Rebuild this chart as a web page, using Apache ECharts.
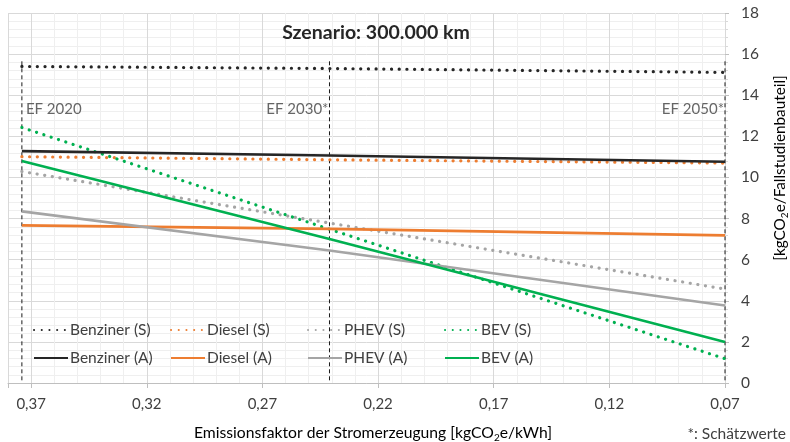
<!DOCTYPE html>
<html>
<head>
<meta charset="utf-8">
<script src="https://cdn.jsdelivr.net/npm/echarts@6/dist/echarts.min.js"></script>
<style>
  html, body { margin: 0; padding: 0; background: #fff; }
  #chart { width: 790px; height: 442px; }
</style>
</head>
<body>
<div id="chart"></div>
<script>
// Emission factors of the electricity mix for the three reference years
const efNames = ['EF 2020', 'EF 2030*', 'EF 2050*'];
const efValues = [0.374, 0.241, 0.07];

// Tick labels of the emission-factor axis (German decimal comma)
const xTickLabels = ['0,37', '0,32', '0,27', '0,22', '0,17', '0,12', '0,07'];

// Results per vehicle type [kgCO2e/Fallstudienbauteil] at EF 2020, EF 2030, EF 2050
const benzinerS = [15.40, 15.30, 15.11];
const dieselS   = [11.01, 10.86, 10.70];
const phevS     = [10.29, 7.78, 4.57];
const bevS      = [12.43, 7.48, 1.18];
const benzinerA = [11.28, 11.07, 10.76];
const dieselA   = [7.67, 7.50, 7.18];
const phevA     = [8.35, 6.45, 3.77];
const bevA      = [10.80, 7.00, 1.99];

const FONT = 'Lato';
const TXT = '#404040';

function pairs(vals) { return efValues.map((x, i) => [x, vals[i]]); }

const dotted = [0.1, 7.6];
const lineDefs = [
  { name: 'Benziner (S)', data: benzinerS, color: '#262626', dot: true },
  { name: 'Diesel (S)',   data: dieselS,   color: '#ED7D31', dot: true },
  { name: 'PHEV (S)',     data: phevS,     color: '#A5A5A5', dot: true },
  { name: 'BEV (S)',      data: bevS,      color: '#00B050', dot: true },
  { name: 'Benziner (A)', data: benzinerA, color: '#262626', dot: false },
  { name: 'Diesel (A)',   data: dieselA,   color: '#ED7D31', dot: false },
  { name: 'PHEV (A)',     data: phevA,     color: '#A5A5A5', dot: false },
  { name: 'BEV (A)',      data: bevA,      color: '#00B050', dot: false }
];

const series = [];

// Vertical dashed markers for the reference years
efValues.forEach((ef, i) => {
  series.push({
    type: 'line',
    name: 'marker' + i,
    data: [[ef, 15.65], [ef, 0]],
    symbol: 'none',
    silent: true,
    lineStyle: { color: '#1a1a1a', width: 1, type: [4, 3] },
    z: 1
  });
});

// Labels of the reference years
series.push({
  type: 'scatter',
  name: 'efLabels',
  symbolSize: 0,
  silent: true,
  data: efValues.map((ef, i) => ({
    value: [ef, 13.3],
    label: {
      show: true,
      formatter: efNames[i],
      position: i === 0 ? 'right' : 'left',
      distance: i === 0 ? 4 : 1,
      fontFamily: FONT,
      fontSize: 15,
      color: TXT
    }
  }))
});

lineDefs.forEach(d => {
  series.push({
    type: 'line',
    name: d.name,
    data: pairs(d.data),
    symbol: 'none',
    color: d.color,
    lineStyle: d.dot
      ? { color: d.color, width: 3.2, type: dotted, cap: 'round' }
      : { color: d.color, width: 2.6 },
    z: d.dot ? 3 : 4
  });
});

// Legend laid out as a 4 x 2 grid with fixed column spacing
const legends = lineDefs.map((d, i) => ({
  left: 28 + 137 * (i % 4),
  top: i < 4 ? 317 : 345,
  itemWidth: 34,
  itemHeight: 14,
  itemStyle: { opacity: 0 },
  textStyle: { fontFamily: FONT, fontSize: 15.5, color: TXT, padding: [0, 0, 0, -3] },
  selectedMode: false,
  data: [d.name]
}));

const chart = echarts.init(document.getElementById('chart'), null, { renderer: 'canvas' });
chart.setOption({
  animation: false,
  backgroundColor: '#ffffff',
  textStyle: { fontFamily: FONT },
  title: {
    text: 'Szenario: 300.000 km',
    left: 371,
    textAlign: 'center',
    top: 18,
    textStyle: { fontFamily: FONT, fontSize: 19.5, fontWeight: 'bold', color: '#262626' }
  },
  grid: { left: 8, right: 65, top: 13, bottom: 59 },
  legend: legends,
  xAxis: {
    type: 'value',
    inverse: true,
    min: 0.07,
    max: 0.38,
    interval: 0.05,
    axisLine: { show: true, lineStyle: { color: '#bfbfbf', width: 1 } },
    axisTick: { show: true, length: 5, lineStyle: { color: '#bfbfbf' } },
    minorTick: { show: false, splitNumber: 5 },
    splitLine: { show: true, lineStyle: { color: '#d9d9d9', width: 1 } },
    minorSplitLine: { show: true, lineStyle: { color: '#efefef', width: 1 } },
    axisLabel: {
      margin: 14,
      fontFamily: FONT,
      fontSize: 15,
      color: TXT,
      formatter: v => {
        const s = v.toFixed(2).replace('.', ',');
        return xTickLabels.includes(s) ? s : '';
      }
    }
  },
  yAxis: {
    type: 'value',
    position: 'right',
    min: 0,
    max: 18,
    interval: 2,
    axisLine: { show: false },
    axisTick: { show: true, length: 4, lineStyle: { color: '#bfbfbf' } },
    minorTick: { show: true, splitNumber: 5, length: 3, lineStyle: { color: '#d9d9d9' } },
    splitLine: { show: true, lineStyle: { color: '#d9d9d9', width: 1 } },
    minorSplitLine: { show: true, lineStyle: { color: '#efefef', width: 1 } },
    axisLabel: { margin: 16, fontFamily: FONT, fontSize: 15.5, color: TXT }
  },
  graphic: [
    {
      type: 'text',
      x: 373,
      y: 433,
      style: {
        text: '{a|Emissionsfaktor der Stromerzeugung [kgCO}{s|2}{a|e/kWh]}',
        align: 'center',
        verticalAlign: 'middle',
        rich: {
          a: { fontFamily: FONT, fontSize: 15.7, color: TXT, lineHeight: 20 },
          s: { fontFamily: FONT, fontSize: 10, color: TXT, lineHeight: 20, verticalAlign: 'bottom', padding: [6, 0, 0, 0] }
        }
      }
    },
    {
      type: 'text',
      x: 786,
      y: 434,
      style: {
        text: '*: Schätzwerte',
        align: 'right',
        verticalAlign: 'middle',
        fontFamily: FONT,
        fontSize: 15.5,
        fill: TXT
      }
    },
    {
      type: 'text',
      x: 780,
      y: 168,
      rotation: Math.PI / 2,
      style: {
        text: '{a|[kgCO}{s|2}{a|e/Fallstudienbauteil]}',
        align: 'center',
        verticalAlign: 'middle',
        rich: {
          a: { fontFamily: FONT, fontSize: 15.3, color: TXT, lineHeight: 20 },
          s: { fontFamily: FONT, fontSize: 10, color: TXT, lineHeight: 20, verticalAlign: 'bottom', padding: [6, 0, 0, 0] }
        }
      }
    }
  ],
  series: series
});
</script>
</body>
</html>
